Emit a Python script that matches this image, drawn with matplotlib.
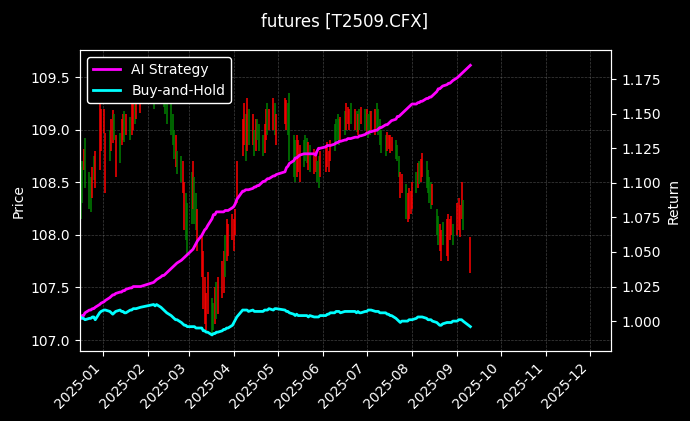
# librerias
import pandas as pd
import numpy as np
import matplotlib
matplotlib.use("Agg")
import matplotlib.pyplot as plt
import matplotlib.dates as mdates

plt.style.use("dark_background")

titulo = "futures [T2509.CFX]"

# dias de mercado (sin festivos de la bolsa)
cerrados = ["2025-01-01", "2025-01-28", "2025-01-29", "2025-01-30", "2025-01-31",
            "2025-02-03", "2025-02-04", "2025-04-04", "2025-05-01", "2025-05-02",
            "2025-05-05", "2025-06-02", "2025-09-08", "2025-09-09"]
fechas = pd.bdate_range("2024-12-17", "2025-09-10")
fechas = fechas[~fechas.isin(pd.to_datetime(cerrados))]

# minimos y maximos diarios por mes
bajos = (
    [108.15, 108.30, 108.62, 108.45, 108.25, 108.22, 108.35, 108.52, 108.45, 108.62, 108.80]
    + [108.97, 108.40, 108.70, 108.80, 108.87, 108.90, 108.55, 108.68, 108.85, 108.90, 108.88, 108.95,
       108.90, 108.95, 109.00, 109.05, 109.10, 109.16]
    + [109.20, 109.25, 109.30, 109.25, 109.30, 109.22, 109.15, 109.05, 108.95, 108.85, 108.72, 108.65,
       108.58, 108.50, 108.40, 108.05, 107.95, 107.80]
    + [108.10, 108.25, 108.10, 108.05, 107.85, 107.60, 107.30, 107.15, 107.10, 107.25, 107.05, 107.10,
       107.15, 107.20, 107.25, 107.40, 107.45, 107.60, 107.75, 107.80, 107.95]
    + [107.85, 108.00, 108.30, 108.75, 108.85, 108.70, 108.80, 108.85, 108.85, 108.75, 108.80, 108.90,
       108.80, 108.75, 108.78, 108.90, 108.95, 109.00, 109.00, 108.95, 108.85]
    + [109.05, 109.00, 108.95, 108.70, 108.55, 108.50, 108.55, 108.60, 108.50, 108.65, 108.70, 108.68,
       108.62, 108.60, 108.58, 108.60, 108.50, 108.45, 108.55]
    + [108.60, 108.65, 108.60, 108.70, 108.80, 108.85, 108.90, 108.85, 108.90, 108.95, 109.00, 109.05,
       109.00, 109.05, 109.00, 108.98, 108.95, 109.00, 109.05, 109.00]
    + [108.98, 108.92, 108.95, 109.00, 108.95, 109.00, 108.95, 108.85, 108.78, 108.75, 108.80, 108.82,
       108.78, 108.80, 108.72, 108.70, 108.55, 108.35, 108.40, 108.15, 108.12, 108.15, 108.20]
    + [108.25, 108.40, 108.45, 108.48, 108.50, 108.55, 108.45, 108.40, 108.30, 108.25, 108.28, 108.00,
       107.90, 107.85, 107.75, 107.90, 107.80, 107.75, 107.95, 108.00, 107.90]
    + [108.00, 108.05, 107.98, 108.15, 108.05, 107.64]
)
altos = (
    [108.65, 108.70, 108.82, 108.92, 108.60, 108.55, 108.65, 108.75, 108.80, 109.25, 109.20]
    + [109.20, 108.97, 109.00, 109.10, 109.19, 109.15, 108.95, 108.97, 109.10, 109.15, 109.18, 109.15,
       109.12, 109.30, 109.28, 109.30, 109.28, 109.30]
    + [109.45, 109.50, 109.52, 109.48, 109.50, 109.45, 109.40, 109.35, 109.25, 109.15, 109.00, 108.95,
       108.80, 108.75, 108.70, 108.50, 108.40, 108.30]
    + [108.60, 108.70, 108.55, 108.40, 108.25, 108.00, 107.85, 107.60, 107.45, 107.65, 107.40, 107.35,
       107.50, 107.55, 107.60, 107.75, 107.85, 108.00, 108.15, 108.10, 108.20]
    + [108.15, 108.25, 108.70, 109.10, 109.25, 109.15, 109.30, 109.20, 109.15, 109.00, 109.10, 109.10,
       109.05, 108.95, 109.05, 109.20, 109.25, 109.20, 109.30, 109.25, 109.15]
    + [109.30, 109.28, 109.25, 109.35, 108.95, 108.90, 108.95, 108.90, 108.85, 108.90, 108.95, 108.92,
       108.88, 108.85, 108.82, 108.80, 108.70, 108.75, 108.80]
    + [108.85, 108.88, 108.80, 108.90, 109.05, 109.10, 109.15, 109.10, 109.12, 109.18, 109.25, 109.22,
       109.20, 109.25, 109.20, 109.18, 109.15, 109.20, 109.22, 109.20]
    + [109.20, 109.15, 109.18, 109.18, 109.20, 109.25, 109.20, 109.10, 109.00, 108.95, 108.98, 108.95,
       108.95, 108.93, 108.90, 108.85, 108.75, 108.60, 108.58, 108.48, 108.40, 108.45, 108.42]
    + [108.50, 108.60, 108.68, 108.70, 108.72, 108.78, 108.70, 108.62, 108.55, 108.50, 108.48, 108.25,
       108.18, 108.10, 108.05, 108.12, 108.15, 108.20, 108.15, 108.18, 108.10]
    + [108.30, 108.35, 108.28, 108.50, 108.33, 107.98]
)
# r = vela roja, g = vela verde (un caracter por dia)
velas = ("ggrgggrgrrr"
         "rrgrrgrgrrgrgrrgrr"
         "grggrggggggrggrrgg"
         "grggrrrrrrggrgrrrgrrr"
         "rrrrrgrgrgrgggrrgrrgr"
         "rrggggrrrgggrgrrggr"
         "rrrrggggrgrrrgrgrgrg"
         "rggrrgggggrrrrgggrrgrrr"
         "rgrgrrggggrggrrgrrrrg"
         "rrrrgr")

# retornos acumulados
estrategia = (
    [1.002, 1.004, 1.004, 1.006, 1.008, 1.008, 1.009, 1.009, 1.010, 1.012, 1.013]
    + [1.014, 1.015, 1.017, 1.018, 1.019, 1.019, 1.020, 1.021, 1.021, 1.022, 1.022, 1.023, 1.024,
       1.024, 1.025, 1.025, 1.025, 1.025]
    + [1.028, 1.029, 1.030, 1.032, 1.033, 1.033, 1.034, 1.035, 1.038, 1.039, 1.040, 1.041, 1.042,
       1.044, 1.045, 1.046, 1.047, 1.048]
    + [1.051, 1.052, 1.054, 1.056, 1.058, 1.062, 1.064, 1.066, 1.067, 1.069, 1.074, 1.077, 1.077,
       1.079, 1.079, 1.079, 1.079, 1.080, 1.080, 1.080, 1.082]
    + [1.083, 1.085, 1.088, 1.094, 1.094, 1.095, 1.095, 1.095, 1.096, 1.097, 1.097, 1.098, 1.098,
       1.101, 1.101, 1.102, 1.103, 1.103, 1.105, 1.105, 1.106]
    + [1.108, 1.111, 1.112, 1.114, 1.116, 1.118, 1.118, 1.119, 1.120, 1.121, 1.121, 1.121, 1.121,
       1.121, 1.121, 1.120, 1.123, 1.125, 1.125]
    + [1.126, 1.127, 1.127, 1.127, 1.128, 1.129, 1.129, 1.130, 1.130, 1.131, 1.131, 1.132, 1.132,
       1.132, 1.133, 1.133, 1.133, 1.134, 1.134, 1.135]
    + [1.136, 1.136, 1.137, 1.137, 1.138, 1.138, 1.139, 1.140, 1.140, 1.142, 1.142, 1.143, 1.144,
       1.145, 1.146, 1.148, 1.148, 1.149, 1.150, 1.153, 1.154, 1.155, 1.156]
    + [1.157, 1.157, 1.158, 1.158, 1.159, 1.159, 1.161, 1.161, 1.162, 1.162, 1.163, 1.166, 1.168,
       1.168, 1.169, 1.170, 1.171, 1.172, 1.172, 1.173, 1.174]
    + [1.176, 1.177, 1.178, 1.179, 1.180, 1.185]
)
comprar_mantener = (
    [1.003, 1.002, 1.002, 1.001, 1.002, 1.002, 1.003, 1.003, 1.001, 1.006, 1.007]
    + [1.008, 1.008, 1.007, 1.006, 1.005, 1.006, 1.007, 1.008, 1.007, 1.007, 1.006, 1.006, 1.008,
       1.008, 1.009, 1.009, 1.009, 1.010]
    + [1.012, 1.011, 1.012, 1.010, 1.009, 1.008, 1.007, 1.006, 1.004, 1.003, 1.002, 1.001, 1.001,
       0.999, 0.998, 0.997, 0.997, 0.996]
    + [0.996, 0.996, 0.996, 0.995, 0.995, 0.995, 0.993, 0.993, 0.992, 0.992, 0.990, 0.991, 0.991,
       0.992, 0.992, 0.993, 0.994, 0.994, 0.995, 0.995, 0.997]
    + [0.999, 1.001, 1.003, 1.008, 1.008, 1.008, 1.008, 1.007, 1.008, 1.007, 1.007, 1.007, 1.007,
       1.007, 1.008, 1.008, 1.008, 1.009, 1.008, 1.009, 1.009]
    + [1.008, 1.007, 1.007, 1.006, 1.005, 1.004, 1.005, 1.004, 1.004, 1.004, 1.004, 1.004, 1.003,
       1.004, 1.003, 1.003, 1.003, 1.003, 1.004]
    + [1.004, 1.005, 1.005, 1.006, 1.006, 1.007, 1.007, 1.007, 1.006, 1.007, 1.007, 1.007, 1.007,
       1.007, 1.007, 1.006, 1.007, 1.006, 1.006, 1.007]
    + [1.007, 1.008, 1.008, 1.008, 1.007, 1.007, 1.007, 1.006, 1.006, 1.006, 1.005, 1.005, 1.004,
       1.004, 1.002, 1.001, 1.000, 0.999, 1.000, 1.000, 1.000, 1.001, 1.001]
    + [1.001, 1.002, 1.003, 1.003, 1.003, 1.003, 1.002, 1.001, 1.001, 1.001, 1.000, 0.999, 0.998,
       0.997, 0.997, 0.998, 0.999, 0.999, 0.999, 0.999, 1.000]
    + [1.000, 1.001, 1.001, 1.001, 1.000, 0.996]
)

colores = ["red" if c == "r" else "green" for c in velas]

fig, ax = plt.subplots(figsize=(6.9, 4.21), dpi=100)
fig.subplots_adjust(left=0.116, right=0.886, bottom=0.166, top=0.881)

# velas (solo la mecha de minimo a maximo)
ax.vlines(fechas, bajos, altos, colors=colores, linewidth=1.1)
ax.set_ylim(106.895, 109.757)
ax.set_ylabel("Price")
ax.grid(True, color="gray", linestyle="--", linewidth=0.5, alpha=0.5)

ax2 = ax.twinx()
ax2.plot(fechas, estrategia, color="#ff00ff", linewidth=2, label="AI Strategy")
ax2.plot(fechas, comprar_mantener, color="#00ffff", linewidth=2, label="Buy-and-Hold")
ax2.set_ylim(0.9783, 1.196)
ax2.set_ylabel("Return")
ax2.legend(loc="upper left", facecolor="black", edgecolor="white", framealpha=1)

ax.set_xlim(pd.Timestamp("2024-12-16 14:00"), pd.Timestamp("2025-12-15 14:00"))
ax.xaxis.set_major_locator(mdates.MonthLocator())
ax.xaxis.set_major_formatter(mdates.DateFormatter("%Y-%m"))
for t in ax.get_xticklabels():
    t.set_rotation(45)
    t.set_ha("right")

fig.suptitle(titulo, fontsize=12, y=0.97)
plt.savefig("out.png")
